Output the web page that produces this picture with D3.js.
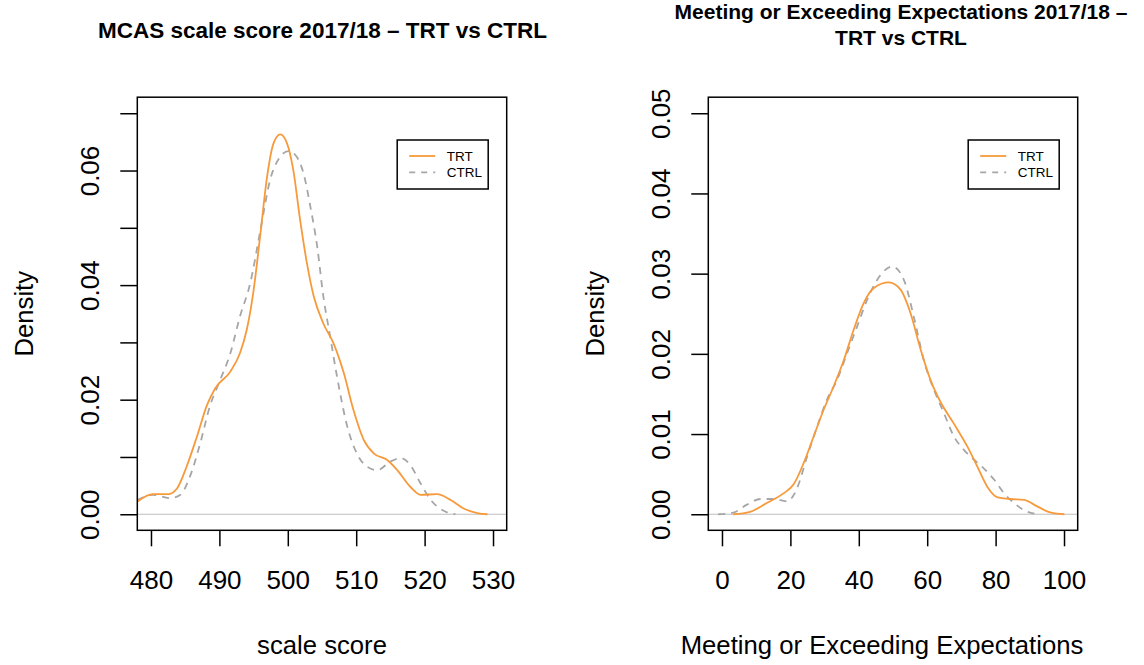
<!DOCTYPE html>
<html>
<head>
<meta charset="utf-8">
<script src="https://d3js.org/d3.v7.min.js"></script>
<style>
  body { margin: 0; background: #fff; }
  text { font-family: "Liberation Sans", Arial, sans-serif; fill: #000; }
  .tick-lab { font-size: 26px; }
  .ax-lab { font-size: 25.7px; }
  .title { font-weight: bold; }
  .leg { font-size: 13.5px; }
</style>
</head>
<body>
<script>
// density curves: [x, density]
var scoreTrt = [[478.0,0.0022],[480.3,0.0035],[482.5,0.0035],[483.8,0.0045],[485.2,0.0083],[486.7,0.0135],
  [488.2,0.0191],[489.4,0.0220],[491.6,0.0249],[493.0,0.0281],[494.0,0.0322],[495.0,0.0391],[496.0,0.0490],
  [496.9,0.0583],[497.9,0.0647],[498.9,0.0663],[499.9,0.0647],[500.8,0.0601],[501.8,0.0514],[502.8,0.0438],
  [503.8,0.0380],[505.2,0.0333],[506.7,0.0298],[508.2,0.0246],[509.6,0.0182],[511.1,0.0130],[512.6,0.0106],
  [514.5,0.0095],[516.0,0.0077],[517.9,0.0048],[519.4,0.0034],[521.8,0.0035],[523.8,0.0025],[525.7,0.0010],
  [527.7,0.0002],[529.2,0.0]];
var scoreCtrl = [[478.0,0.0025],[480.3,0.0034],[482.8,0.0028],[484.3,0.0034],[485.7,0.0066],[487.2,0.0124],
  [488.6,0.0188],[490.1,0.0234],[491.6,0.0281],[493.0,0.0345],[494.5,0.0403],[496.0,0.0496],[497.4,0.0583],
  [498.9,0.0624],[500.1,0.0634],[501.3,0.0624],[502.3,0.0595],[503.3,0.0537],[504.3,0.0467],[505.2,0.0380],
  [506.2,0.0310],[507.2,0.0240],[508.7,0.0153],[510.1,0.0106],[511.6,0.0083],[513.1,0.0077],[515.0,0.0092],
  [516.5,0.0098],[517.9,0.0086],[519.4,0.0054],[520.9,0.0025],[522.8,0.0006],[524.5,0.0]];
var meetTrt = [[3.3,0.0],[8.2,0.0003],[13.1,0.0014],[18.0,0.0026],[20.9,0.0037],[23.9,0.0064],[26.8,0.0097],
  [29.7,0.0130],[32.6,0.0159],[35.6,0.0192],[38.5,0.0230],[41.4,0.0263],[44.4,0.0282],[48.8,0.0289],
  [52.2,0.0280],[55.1,0.0251],[58.1,0.0205],[61.0,0.0167],[63.9,0.0140],[67.8,0.0113],[71.8,0.0084],
  [74.7,0.0059],[77.6,0.0034],[80.6,0.0021],[84.5,0.0019],[88.3,0.0018],[92.3,0.00095],[96.2,0.0002],[100.1,0.0]];
var meetCtrl = [[-1.1,0.0],[3.3,0.0002],[7.3,0.0012],[11.2,0.0019],[15.1,0.0019],[19.0,0.0016],[21.9,0.0032],
  [24.9,0.0072],[27.8,0.0109],[30.7,0.0143],[33.6,0.0167],[36.6,0.0201],[39.5,0.0234],[42.4,0.0267],
  [46.3,0.0298],[49.8,0.0309],[53.2,0.0292],[56.1,0.0246],[59.0,0.0192],[62.0,0.0155],[64.9,0.0126],
  [67.8,0.0097],[70.8,0.0080],[73.7,0.0068],[76.6,0.0057],[79.6,0.0043],[82.5,0.0026],[85.4,0.0014],
  [88.3,0.0005],[92.3,0.0]];

var scoreTicksX = [480, 490, 500, 510, 520, 530];
var meetTicksX = [0, 20, 40, 60, 80, 100];
var scoreTicksY = [0, 0.01, 0.02, 0.03, 0.04, 0.05, 0.06, 0.07];
var meetTicksY = [0, 0.01, 0.02, 0.03, 0.04, 0.05];
var seriesNames = ["TRT", "CTRL"];

var trtCol = "#f79a3c", ctrlCol = "#a6a6a6";

var svg = d3.select("body").append("svg").attr("width", 1144).attr("height", 665);

// one R style panel per call
function panel(p) {
  var x = d3.scaleLinear().domain(p.xlim).range([p.left, p.left + 369.4]);
  var y = d3.scaleLinear().domain(p.ylim).range([530.3, 97.2]);
  var g = svg.append("g");
  var clipId = "clip" + p.id;
  g.append("clipPath").attr("id", clipId).append("rect")
    .attr("x", x.range()[0]).attr("y", 97.2).attr("width", 369.4).attr("height", 433.1);

  // zero line
  g.append("line").attr("x1", x.range()[0]).attr("x2", x.range()[1])
    .attr("y1", y(0)).attr("y2", y(0)).attr("stroke", "#bebebe").attr("stroke-width", 1.2);

  var line = d3.line().x(function (d) { return x(d[0]); }).y(function (d) { return y(d[1]); })
    .curve(d3.curveMonotoneX);
  var curves = g.append("g").attr("clip-path", "url(#" + clipId + ")");
  curves.append("path").attr("d", line(p.ctrl)).attr("fill", "none")
    .attr("stroke", ctrlCol).attr("stroke-width", 1.8).attr("stroke-dasharray", "7,6");
  curves.append("path").attr("d", line(p.trt)).attr("fill", "none")
    .attr("stroke", trtCol).attr("stroke-width", 1.8);

  // box
  g.append("rect").attr("x", x.range()[0]).attr("y", 97.2).attr("width", 369.4).attr("height", 433.1)
    .attr("fill", "none").attr("stroke", "#000").attr("stroke-width", 1.5);

  // x axis
  var xa = d3.axisBottom(x).tickValues(p.xticks).tickSize(16).tickPadding(0).tickFormat(d3.format("d"));
  var gx = g.append("g").attr("transform", "translate(0,530.3)").call(xa);
  gx.select(".domain").remove();
  gx.selectAll("line").attr("stroke", "#000").attr("stroke-width", 1.5);
  gx.selectAll("text").attr("class", "tick-lab").attr("dy", null).attr("y", 59).attr("fill", "#000");

  // y axis, labels rotated like R
  var ya = d3.axisLeft(y).tickValues(p.yticks).tickSize(17).tickFormat(d3.format(".2f"));
  var gy = g.append("g").attr("transform", "translate(" + x.range()[0] + ",0)").call(ya);
  gy.select(".domain").remove();
  gy.selectAll("line").attr("stroke", "#000").attr("stroke-width", 1.5);
  gy.selectAll("text")
    .attr("class", "tick-lab").attr("fill", "#000")
    .attr("x", null).attr("dy", null)
    .attr("text-anchor", "middle")
    .attr("transform", "translate(-38.5,0) rotate(-90)")
    .style("display", function (d, i) { return p.showY(i) ? null : "none"; });

  // axis titles
  g.append("text").attr("class", "ax-lab").attr("text-anchor", "middle")
    .attr("x", (x.range()[0] + x.range()[1]) / 2 + p.xlabShift).attr("y", 654).text(p.xlab);
  g.append("text").attr("class", "ax-lab").attr("text-anchor", "middle")
    .attr("transform", "translate(" + (x.range()[0] - 104.5) + "," + y(p.ylim[0] + (p.ylim[1] - p.ylim[0]) / 2) + ") rotate(-90)")
    .text("Density");

  // main title
  var cx = (x.range()[0] + x.range()[1]) / 2 + p.titleShift;
  p.title.forEach(function (t, i) {
    g.append("text").attr("class", "title").attr("text-anchor", "middle")
      .style("font-size", p.titleSize + "px")
      .attr("x", cx).attr("y", p.titleY[i]).text(t);
  });

  // legend
  var lx = x.range()[1] - 109.5, ly = 140;
  g.append("rect").attr("x", lx).attr("y", ly).attr("width", 91).attr("height", 49)
    .attr("fill", "#fff").attr("stroke", "#000").attr("stroke-width", 1.5);
  seriesNames.forEach(function (s, i) {
    var yy = ly + 16 + i * 16.3;
    g.append("line").attr("x1", lx + 12).attr("x2", lx + 38).attr("y1", yy).attr("y2", yy)
      .attr("stroke", i == 0 ? trtCol : ctrlCol).attr("stroke-width", 1.8)
      .attr("stroke-dasharray", i == 0 ? null : "6,6");
    g.append("text").attr("class", "leg").attr("x", lx + 49.5).attr("y", yy + 5).text(s);
  });
}

panel({
  id: 1, left: 137.3, xlim: [478, 532], ylim: [-0.0028, 0.0728],
  xticks: scoreTicksX, yticks: scoreTicksY, showY: function (i) { return i % 2 == 0; },
  trt: scoreTrt, ctrl: scoreCtrl, xlab: "scale score", xlabShift: 0,
  title: ["MCAS scale score 2017/18 \u2013 TRT vs CTRL"], titleY: [37.5], titleSize: 22.5, titleShift: 0.5
});
panel({
  id: 2, left: 708.3, xlim: [-4, 104], ylim: [-0.002, 0.052],
  xticks: meetTicksX, yticks: meetTicksY, showY: function () { return true; },
  trt: meetTrt, ctrl: meetCtrl, xlab: "Meeting or Exceeding Expectations", xlabShift: -11,
  title: ["Meeting or Exceeding Expectations 2017/18 \u2013", "TRT vs CTRL"], titleY: [19.3, 45],
  titleSize: 21, titleShift: 8
});
</script>
</body>
</html>
